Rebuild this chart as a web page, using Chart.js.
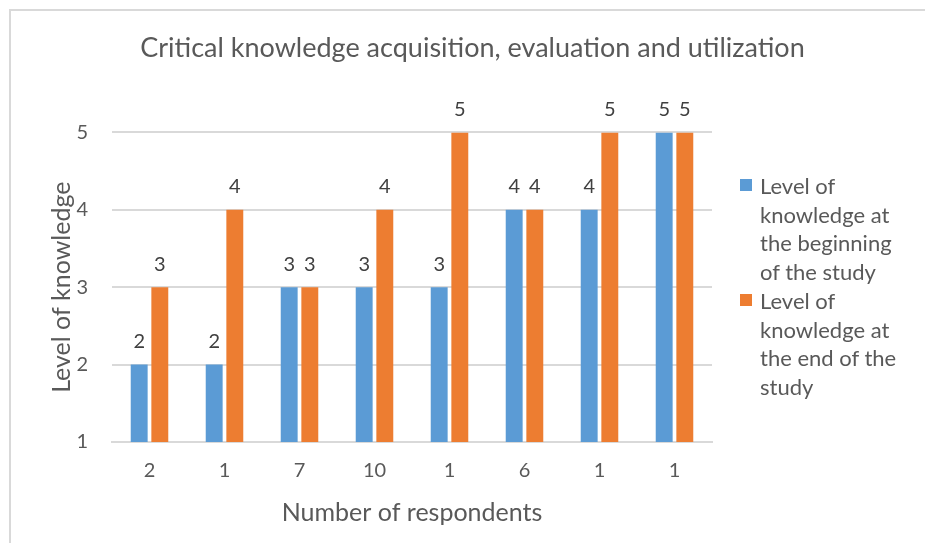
<!DOCTYPE html>
<html lang="en">
<head>
    <meta charset="UTF-8">
    <title>Critical knowledge acquisition</title>
    <script src="https://cdn.jsdelivr.net/npm/chart.js"></script>
</head>
<style>
    body{
        margin: 0;
        background: #ffffff;
    }
    .frame{
        position: absolute;
        left: 9px;
        top: 9px;
        width: 940px;
        height: 560px;
        border: 2px solid #D9D9D9;
    }
    .chartBox{
        position: absolute;
        left: 0;
        top: 0;
        width: 925px;
        height: 543px;
    }
    .legend{
        position: absolute;
        left: 740px;
        top: 172px;
        font-family: Lato, "Open Sans", sans-serif;
        font-size: 22px;
        line-height: 28.7px;
        color: #595959;
    }
    .legend .item{
        position: relative;
        padding-left: 20px;
    }
    .legend .box{
        position: absolute;
        left: 0;
        top: 7px;
        width: 12px;
        height: 12px;
    }
</style>
<body>
<div class="frame"></div>
<div class="chartBox">
    <canvas id="knowledge"></canvas>
</div>
<div class="legend" id="legend"></div>
<script>
    const respondents = ['2', '1', '7', '10', '1', '6', '1', '1'];
    const levelBeginning = [2, 2, 3, 3, 3, 4, 4, 5];
    const levelEnd = [3, 4, 3, 4, 5, 4, 5, 5];
    const yTicks = [1, 2, 3, 4, 5];
    const legendBeginning = ['Level of', 'knowledge at', 'the beginning', 'of the study'];
    const legendEnd = ['Level of', 'knowledge at', 'the end of the', 'study'];

    const fontFamily = 'Lato, "Open Sans", sans-serif';
    const grey = '#595959';

    // values above each bar
    const valueLabels = {
        id: 'valueLabels',
        afterDatasetsDraw(chart) {
            const ctx = chart.ctx;
            ctx.save();
            ctx.font = '20px ' + fontFamily;
            ctx.fillStyle = '#404040';
            ctx.textAlign = 'center';
            ctx.textBaseline = 'bottom';
            chart.data.datasets.forEach((ds, i) => {
                chart.getDatasetMeta(i).data.forEach((bar, j) => {
                    ctx.fillText(ds.data[j], bar.x, bar.y - 13);
                });
            });
            ctx.restore();
        }
    };

    let chart = new Chart(document.getElementById('knowledge'), {
        type: 'bar',
        plugins: [valueLabels],
        data: {
            labels: respondents,
            datasets: [
                {
                    label: 'Level of knowledge at the beginning of the study',
                    data: levelBeginning,
                    backgroundColor: '#5B9BD5',
                    categoryPercentage: 0.55,
                    barPercentage: 0.82
                },
                {
                    label: 'Level of knowledge at the end of the study',
                    data: levelEnd,
                    backgroundColor: '#ED7D31',
                    categoryPercentage: 0.55,
                    barPercentage: 0.82
                }
            ]
        },
        options: {
            responsive: true,
            maintainAspectRatio: false,
            animation: false,
            layout: {
                padding: {top: 20, right: 15, bottom: 13, left: 35}
            },
            plugins: {
                title: {
                    display: true,
                    text: 'Critical knowledge acquisition, evaluation and utilization',
                    color: grey,
                    font: {family: fontFamily, size: 27, weight: 'normal'},
                    padding: {top: 12, bottom: 68}
                },
                legend: {display: false},
                tooltip: {enabled: false}
            },
            scales: {
                x: {
                    grid: {display: false, drawTicks: false},
                    border: {color: '#D9D9D9', width: 2},
                    ticks: {color: grey, font: {family: fontFamily, size: 20}, padding: 17},
                    title: {
                        display: true,
                        text: 'Number of respondents',
                        color: grey,
                        font: {family: fontFamily, size: 25},
                        padding: {top: 0, bottom: 2}
                    },
                    afterFit(axis) {
                        axis.height = 88;
                    }
                },
                y: {
                    min: 1,
                    max: 5,
                    afterBuildTicks(axis) {
                        axis.ticks = yTicks.map(v => ({value: v}));
                    },
                    grid: {color: '#D9D9D9', lineWidth: 2, drawTicks: false},
                    border: {display: false},
                    ticks: {color: grey, font: {family: fontFamily, size: 20}, padding: 24},
                    title: {
                        display: true,
                        text: 'Level of knowledge',
                        color: grey,
                        font: {family: fontFamily, size: 25},
                        padding: {top: 12, bottom: 0}
                    },
                    afterFit(axis) {
                        axis.width = 77;
                    }
                },
                // empty axis: room for the legend on the right
                gap: {
                    type: 'linear',
                    position: 'right',
                    display: true,
                    grid: {display: false, drawTicks: false},
                    border: {display: false},
                    ticks: {display: false},
                    afterFit(axis) {
                        axis.width = 198;
                    }
                }
            }
        }
    });

    // legend built from the chart's own datasets
    const legendLines = [legendBeginning, legendEnd];
    const legendBox = document.getElementById('legend');
    chart.data.datasets.forEach((ds, i) => {
        const item = document.createElement('div');
        item.className = 'item';
        const box = document.createElement('span');
        box.className = 'box';
        box.style.background = ds.backgroundColor;
        item.appendChild(box);
        legendLines[i].forEach(line => {
            const row = document.createElement('div');
            row.textContent = line;
            item.appendChild(row);
        });
        legendBox.appendChild(item);
    });
</script>
</body>
</html>
